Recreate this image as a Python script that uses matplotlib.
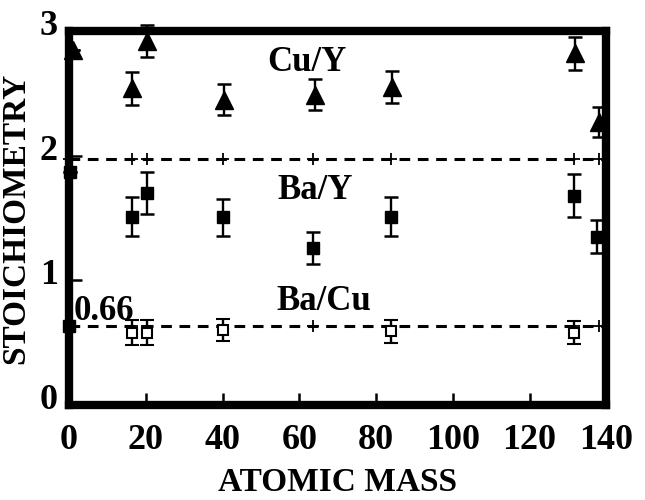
import matplotlib
matplotlib.use('Agg')
import matplotlib.pyplot as plt
import matplotlib.transforms as mtransforms

# Cu/Y (filled triangles)
cu_y_x = [1, 16.5, 20.4, 40.4, 64, 84.2, 131.8, 138]
cu_y_val = [2.85, 2.54, 2.92, 2.45, 2.49, 2.55, 2.82, 2.27]
cu_y_err = [0, 0.13, 0.13, 0.125, 0.125, 0.13, 0.13, 0.12]

# Ba/Y (filled squares)
ba_y_x = [0.3, 16.3, 20.2, 40.2, 63.7, 84, 131.5, 137.5]
ba_y_val = [1.87, 1.51, 1.70, 1.505, 1.26, 1.51, 1.68, 1.35]
ba_y_err = [0, 0.155, 0.17, 0.15, 0.13, 0.155, 0.175, 0.13]

# Ba/Cu (open squares)
ba_cu_x = [16.5, 20.2, 40.2, 84, 131.5]
ba_cu_val = [0.58, 0.58, 0.60, 0.59, 0.58]
ba_cu_err = [0.1, 0.1, 0.09, 0.09, 0.09]

# reference levels
ref_x = [0, 16.5, 20.2, 40.2, 63.7, 84, 131.5, 138]
ref_ba_y = 1.97
ref_ba_cu = 0.63

x_ticks = [0, 20, 40, 60, 80, 100, 120, 140]
y_ticks = [0, 1, 2, 3]

plt.rcParams['font.family'] = ['Liberation Serif', 'DejaVu Serif']
plt.rcParams['font.weight'] = 'bold'

fig = plt.figure(figsize=(6.45, 5.0), dpi=100)
ax = fig.add_axes([0.107, 0.19, 0.833, 0.748])

# dashed reference lines with small crosses
for level in [ref_ba_y, ref_ba_cu]:
    ax.plot([0, 140], [level, level], color='black', lw=2.2, dashes=(3.5, 2.5), zorder=2)
    ax.plot(ref_x, [level] * len(ref_x), ls='none', marker='+', ms=8, mew=1.3,
            color='black', clip_on=False, zorder=2)
ax.plot([0], [ref_ba_cu], ls='none', marker='s', ms=8, color='black', clip_on=False, zorder=3)

eb_kw = dict(ls='none', color='black', ecolor='black', elinewidth=1.7, capsize=5,
             capthick=1.8, clip_on=False, zorder=4)
ax.errorbar(cu_y_x, cu_y_val, yerr=cu_y_err, marker='^', ms=13, **eb_kw)
ax.errorbar(ba_y_x, ba_y_val, yerr=ba_y_err, marker='s', ms=9, **eb_kw)
ax.errorbar(ba_cu_x, ba_cu_val, yerr=ba_cu_err, marker='s', ms=7, mfc='white',
            mew=1.5, **eb_kw)

ax.text(62, 2.75, 'Cu/Y', fontsize=25, fontweight='bold', ha='center', va='center')
ax.text(64, 1.72, 'Ba/Y', fontsize=25, fontweight='bold', ha='center', va='center')
ax.text(66.5, 0.83, 'Ba/Cu', fontsize=25, fontweight='bold', ha='center', va='center')
ax.text(1.3, 0.75, '0.66', fontsize=25, fontweight='bold', ha='left', va='center')

ax.set_xlim(0, 140)
ax.set_ylim(0, 3)
ax.set_xticks(x_ticks)
ax.set_yticks(y_ticks)
ax.set_xticklabels([str(t) for t in x_ticks])
ax.set_yticklabels([str(t) for t in y_ticks])
ax.tick_params(axis='both', direction='in', length=9, width=1.8, labelsize=26)
ax.tick_params(axis='x', pad=14)
ax.tick_params(axis='y', pad=8)

# y tick labels sit a little above their ticks in the original
offset = mtransforms.ScaledTranslation(0, 6 / 72, fig.dpi_scale_trans)
for lbl in ax.get_yticklabels():
    lbl.set_transform(lbl.get_transform() + offset)

for spine in ax.spines.values():
    spine.set_linewidth(6)

ax.set_xlabel('ATOMIC MASS', fontsize=24, fontweight='bold', labelpad=7)
ax.set_ylabel('STOICHIOMETRY', fontsize=24, fontweight='bold', labelpad=6)

fig.savefig('out.png', dpi=100)
plt.close(fig)
